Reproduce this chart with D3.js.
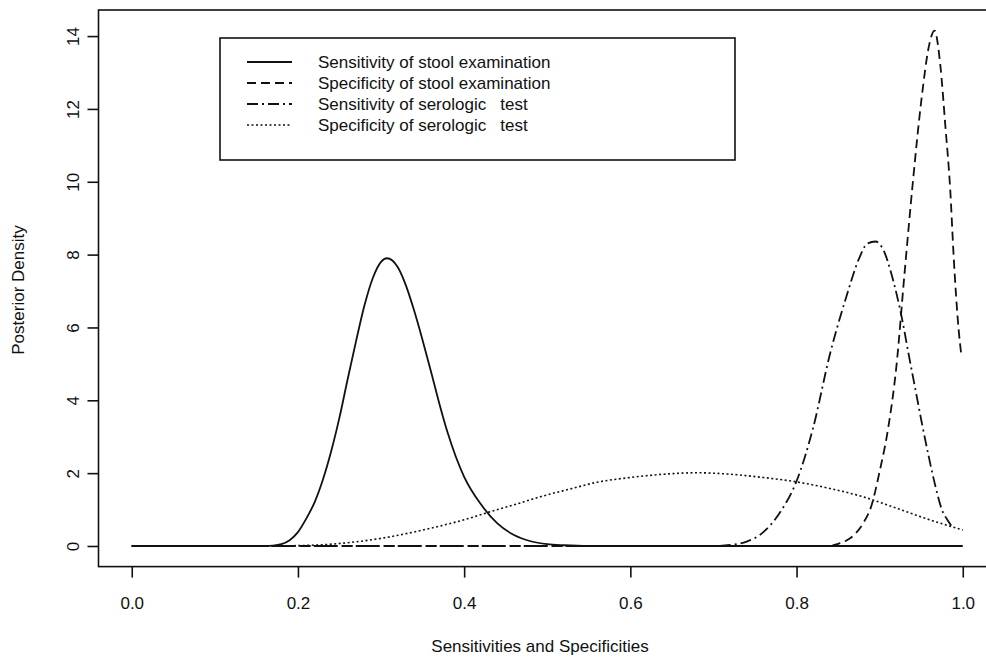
<!DOCTYPE html>
<html>
<head>
<meta charset="utf-8">
<script src="https://cdn.jsdelivr.net/npm/d3@7"></script>
<style>
  html, body { margin: 0; padding: 0; background: #fff; }
  svg { display: block; }
  text { font-family: "Liberation Sans", Arial, Helvetica, sans-serif; fill: #111; }
</style>
</head>
<body>
<svg id="chart" width="986" height="658"></svg>
<script>
// ---- data ----
const xTicks = [0.0, 0.2, 0.4, 0.6, 0.8, 1.0];
const yTicks = [0, 2, 4, 6, 8, 10, 12, 14];
const xTitle = "Sensitivities and Specificities";
const yTitle = "Posterior Density";

const seriesNames = [
  "Sensitivity of stool examination",
  "Specificity of stool examination",
  "Sensitivity of serologic   test",
  "Specificity of serologic   test"
];

// Sensitivity of stool examination (solid)
const sensStoolX = [0, 0.16, 0.17, 0.18, 0.19, 0.20, 0.21, 0.22, 0.23, 0.24, 0.25, 0.26, 0.27, 0.28, 0.29, 0.30, 0.307, 0.32, 0.33, 0.34, 0.35, 0.36, 0.37, 0.38, 0.39, 0.40, 0.42, 0.44, 0.46, 0.48, 0.50, 0.52, 0.55, 1.0];
const sensStoolY = [0, 0, 0.01, 0.05, 0.16, 0.38, 0.75, 1.2, 1.82, 2.6, 3.53, 4.6, 5.63, 6.6, 7.35, 7.8, 7.9, 7.66, 7.15, 6.45, 5.65, 4.8, 3.92, 3.12, 2.45, 1.9, 1.15, 0.62, 0.3, 0.13, 0.05, 0.02, 0, 0];

// Specificity of stool examination (dashed)
const specStoolX = [0, 0.84, 0.85, 0.86, 0.87, 0.88, 0.89, 0.90, 0.91, 0.92, 0.93, 0.94, 0.95, 0.96, 0.966, 0.973, 0.979, 0.985, 0.989, 0.995, 0.998];
const specStoolY = [0, 0, 0.06, 0.15, 0.32, 0.62, 1.1, 2.05, 3.2, 4.9, 7.5, 10.0, 12.2, 13.8, 14.15, 13.2, 11.55, 9.75, 7.97, 5.95, 5.3];

// Sensitivity of serologic test (dash-dot)
const sensSeroX = [0, 0.70, 0.72, 0.74, 0.76, 0.78, 0.80, 0.82, 0.84, 0.86, 0.875, 0.885, 0.895, 0.905, 0.915, 0.927, 0.935, 0.943, 0.951, 0.959, 0.967, 0.975, 0.982, 0.988];
const sensSeroY = [0, 0, 0.03, 0.12, 0.38, 0.92, 1.78, 3.25, 5.25, 6.85, 7.88, 8.3, 8.36, 8.1, 7.4, 6.23, 5.25, 4.3, 3.35, 2.46, 1.65, 0.99, 0.7, 0.5];

// Specificity of serologic test (dotted)
const specSeroX = [0, 0.15, 0.20, 0.24, 0.30, 0.36, 0.40, 0.43, 0.46, 0.49, 0.53, 0.56, 0.60, 0.64, 0.68, 0.72, 0.76, 0.80, 0.84, 0.88, 0.92, 0.96, 1.0];
const specSeroY = [0, 0, 0.01, 0.05, 0.21, 0.49, 0.72, 0.93, 1.13, 1.34, 1.58, 1.75, 1.88, 1.97, 2.01, 1.97, 1.88, 1.76, 1.58, 1.35, 1.04, 0.72, 0.44];

// ---- drawing ----
const svg = d3.select("#chart");
const plot = { left: 98.5, right: 996, top: 10, bottom: 566.6 };

const yMax = d3.max(specStoolY);
const x = d3.scaleLinear().domain([-0.04, 1.04]).range([plot.left, plot.right]);
const y = d3.scaleLinear().domain([-0.04 * yMax, 1.04 * yMax]).range([plot.bottom, plot.top]);

const series = [
  { name: seriesNames[0], xs: sensStoolX, ys: sensStoolY, dash: null, w: 1.8 },
  { name: seriesNames[1], xs: specStoolX, ys: specStoolY, dash: "9,5", w: 1.8 },
  { name: seriesNames[2], xs: sensSeroX, ys: sensSeroY, dash: "11,4,2,4", w: 1.8 },
  { name: seriesNames[3], xs: specSeroX, ys: specSeroY, dash: "2,2.5", w: 1.6 }
];

const line = d3.line()
  .x(d => x(d[0]))
  .y(d => y(d[1]))
  .curve(d3.curveMonotoneX);

const curves = svg.append("g");
series.forEach(s => {
  const pts = s.xs.map((v, i) => [v, s.ys[i]]);
  curves.append("path")
    .attr("d", line(pts))
    .attr("fill", "none")
    .attr("stroke", "#111")
    .attr("stroke-width", s.w)
    .attr("stroke-dasharray", s.dash);
});

// box
svg.append("rect")
  .attr("x", plot.left).attr("y", plot.top)
  .attr("width", plot.right - plot.left).attr("height", plot.bottom - plot.top)
  .attr("fill", "none").attr("stroke", "#111").attr("stroke-width", 1.6);

// x axis
const xAxis = svg.append("g")
  .attr("transform", `translate(0,${plot.bottom})`)
  .call(d3.axisBottom(x).tickValues(xTicks).tickFormat(d3.format(".1f")).tickSize(11).tickSizeOuter(0));
xAxis.select(".domain").remove();
xAxis.selectAll(".tick line").attr("stroke", "#111").attr("stroke-width", 1.6);
xAxis.selectAll(".tick text")
  .attr("y", 30).attr("dy", "0.71em")
  .style("font-size", "17px").style("font-family", "Liberation Sans, Arial, sans-serif").attr("fill", "#111");

// y axis
const yAxis = svg.append("g")
  .attr("transform", `translate(${plot.left},0)`)
  .call(d3.axisLeft(y).tickValues(yTicks).tickFormat(d3.format("d")).tickSize(11).tickSizeOuter(0));
yAxis.select(".domain").remove();
yAxis.selectAll(".tick line").attr("stroke", "#111").attr("stroke-width", 1.6);
yAxis.selectAll(".tick text")
  .attr("transform", "rotate(-90)")
  .attr("x", 0).attr("y", -19.5).attr("dy", 0)
  .attr("text-anchor", "middle")
  .style("font-size", "17px").style("font-family", "Liberation Sans, Arial, sans-serif").attr("fill", "#111");

// axis titles
svg.append("text")
  .attr("x", 540).attr("y", 652)
  .attr("text-anchor", "middle")
  .style("font-size", "17px")
  .text(xTitle);

svg.append("text")
  .attr("transform", "translate(24,290) rotate(-90)")
  .attr("text-anchor", "middle")
  .style("font-size", "17px")
  .text(yTitle);

// legend
const lg = { x: 220, y: 38, w: 515, h: 122, rowY0: 62, rowStep: 21, lineX0: 247, lineX1: 292, textX: 318 };
const legend = svg.append("g");
legend.append("rect")
  .attr("x", lg.x).attr("y", lg.y).attr("width", lg.w).attr("height", lg.h)
  .attr("fill", "#fff").attr("stroke", "#111").attr("stroke-width", 1.6);
series.forEach((s, i) => {
  const cy = lg.rowY0 + i * lg.rowStep;
  legend.append("line")
    .attr("x1", lg.lineX0).attr("x2", lg.lineX1)
    .attr("y1", cy).attr("y2", cy)
    .attr("stroke", "#111").attr("stroke-width", s.w)
    .attr("stroke-dasharray", s.dash);
  legend.append("text")
    .attr("x", lg.textX).attr("y", cy + 6)
    .style("font-size", "17px")
    .style("white-space", "pre")
    .attr("xml:space", "preserve")
    .text(s.name);
});
</script>
</body>
</html>
